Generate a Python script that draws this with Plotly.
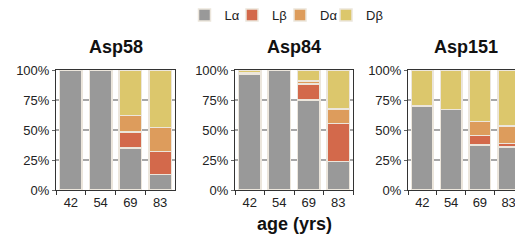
import plotly.graph_objects as go

ages = ["42", "54", "69", "83"]
panels = ["Asp58", "Asp84", "Asp151"]
series_names = ["Lα", "Lβ", "Dα", "Dβ"]

asp58_La = [100, 100, 35, 13]
asp58_Lb = [0, 0, 13.5, 19]
asp58_Da = [0, 0, 13.5, 20]
asp58_Db = [0, 0, 38, 48]

asp84_La = [96.5, 100, 75, 23.7]
asp84_Lb = [0, 0, 13.2, 31.8]
asp84_Da = [0.8, 0, 2.5, 12.1]
asp84_Db = [2.7, 0, 9.3, 32.4]

asp151_La = [70, 67, 37.5, 36]
asp151_Lb = [0, 0, 8.1, 2.9]
asp151_Da = [0, 0, 11.3, 14.3]
asp151_Db = [30, 33, 43.1, 46.8]

data = {
    "Asp58": [asp58_La, asp58_Lb, asp58_Da, asp58_Db],
    "Asp84": [asp84_La, asp84_Lb, asp84_Da, asp84_Db],
    "Asp151": [asp151_La, asp151_Lb, asp151_Da, asp151_Db],
}
colors = ["#999999", "#d3694b", "#dd9c5c", "#dcc76c"]

# page body has an 8px margin; figure coordinates are page coordinates minus 8
OFF = 8
W, H = 523 - OFF, 240 - OFF
ML, MR, MT, MB = 48, 0, 62, 50
PW, PH = W - ML - MR, H - MT - MB


def px_x(x):
    return (x - OFF - ML) / PW


def px_y(y):
    return (H - MB - (y - OFF)) / PH


xdoms_px = [(56, 175), (235, 353), (408, 523)]
legend_sq_centers = [203.5, 251, 299, 345]
legend_ids = ["legend", "legend2", "legend3", "legend4"]

FONT = "Liberation Sans, Arial, Helvetica, sans-serif"
fig = go.Figure()

for i, p in enumerate(panels):
    xa = "x" if i == 0 else f"x{i+1}"
    ya = "y" if i == 0 else f"y{i+1}"
    for j, name in enumerate(series_names):
        fig.add_trace(go.Bar(
            x=ages, y=data[p][j], name=name, xaxis=xa, yaxis=ya,
            marker=dict(color=colors[j], line=dict(color="#ece6dc", width=1.5)),
            showlegend=(i == 0), legendgroup=name, legend=legend_ids[j],
        ))
    x0, x1 = xdoms_px[i]
    xkey = "xaxis" if i == 0 else f"xaxis{i+1}"
    ykey = "yaxis" if i == 0 else f"yaxis{i+1}"
    fig.layout[xkey] = dict(
        domain=[max(0, px_x(x0)), min(1, px_x(x1))], anchor=ya, type="category",
        showline=True, linecolor="#333333", linewidth=1, mirror=True,
        ticks="outside", tickson="boundaries", ticklen=4, tickcolor="#333333",
        tickfont=dict(size=13, color="#222222", family=FONT),
        showgrid=False, fixedrange=True, automargin=False,
    )
    fig.layout[ykey] = dict(
        domain=[0, 1], anchor=xa, range=[0, 100],
        tickvals=[0, 25, 50, 75, 100], ticktext=["0%", "25%", "50%", "75%", "100%"],
        showline=True, linecolor="#333333", linewidth=1, mirror=(i < 2),
        ticks="outside", ticklen=3, tickcolor="#666666",
        showgrid=True, gridcolor="#a8a8a8", gridwidth=2,
        tickfont=dict(size=13, color="#222222", family=FONT),
        zeroline=False, fixedrange=True, automargin=False,
    )
    fig.add_annotation(
        text=f"<b>{p}</b>", x=px_x((x0 + x1) / 2), y=px_y(47),
        xref="paper", yref="paper", showarrow=False,
        xanchor="center", yanchor="middle",
        font=dict(size=18, color="#111111", family=FONT),
    )

fig.add_annotation(
    text="<b>age (yrs)</b>", x=px_x(294), y=px_y(224),
    xref="paper", yref="paper", showarrow=False,
    xanchor="center", yanchor="middle",
    font=dict(size=18, color="#111111", family=FONT),
)

fig.update_layout(
    barmode="stack", bargap=0.25,
    width=W, height=H,
    margin=dict(l=ML, r=MR, t=MT, b=MB, autoexpand=False),
    plot_bgcolor="white", paper_bgcolor="white",
    showlegend=True,
    font=dict(family=FONT),
)

for k, lid in enumerate(legend_ids):
    fig.update_layout({lid: dict(
        orientation="h", xref="container", yref="container",
        x=(legend_sq_centers[k] - OFF - 19) / W, y=(H - (15 - OFF)) / H,
        xanchor="left", yanchor="middle",
        font=dict(size=13, color="#222222", family=FONT),
        bgcolor="rgba(0,0,0,0)",
    )})

fig.write_html("out.html")
